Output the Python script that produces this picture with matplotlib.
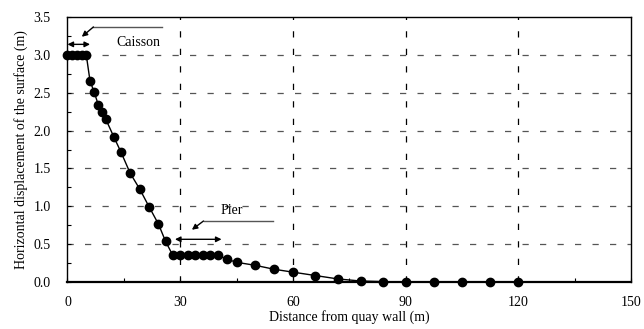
import matplotlib
matplotlib.use("Agg")
import matplotlib.pyplot as plt
from matplotlib.ticker import MultipleLocator

plt.rcParams['font.family'] = ['Liberation Serif', 'DejaVu Serif']

distance = [0, 1.25, 2.5, 3.75, 5.0,
            6.0, 7.1, 8.2, 9.2, 10.2, 12.4, 14.2, 16.7, 19.2, 21.7, 24.2, 26.1,
            28, 30, 32, 34, 36, 38, 40,
            42.5, 45, 50, 55, 60, 66, 72, 78, 84, 90, 97.5, 105, 112.5, 120]
displacement = [3.0, 3.0, 3.0, 3.0, 3.0,
                2.655, 2.51, 2.34, 2.25, 2.15, 1.91, 1.72, 1.436, 1.23, 0.995, 0.766, 0.537,
                0.355, 0.355, 0.355, 0.355, 0.355, 0.355, 0.355,
                0.30, 0.26, 0.22, 0.168, 0.13, 0.085, 0.04, 0.013, 0.005, 0.0, 0.0, 0.0, 0.0, 0.0]

x_ticks = [0, 30, 60, 90, 120, 150]
y_ticks = [0.0, 0.5, 1.0, 1.5, 2.0, 2.5, 3.0, 3.5]

fig = plt.figure(figsize=(6.44, 3.29), dpi=100)
ax = fig.add_axes([0.1048, 0.1429, 0.8752, 0.8051])

ax.plot(distance, displacement, color='black', lw=1.0, marker='o', ms=6,
        mfc='black', mec='black', zorder=3, clip_on=False)

ax.set_xlim(0, 150)
ax.set_ylim(0, 3.5)
ax.set_xticks(x_ticks)
ax.set_yticks(y_ticks)
ax.set_yticklabels([f"{v:.1f}" for v in y_ticks])
ax.xaxis.set_minor_locator(MultipleLocator(15))
ax.yaxis.set_minor_locator(MultipleLocator(0.25))
ax.tick_params(which='both', direction='in', labelsize=10, length=3, width=0.8)
ax.tick_params(axis='x', which='major', pad=10)
ax.tick_params(axis='y', which='major', pad=12)
ax.tick_params(which='minor', length=3)

for xv in [30, 60, 90, 120]:
    ax.axvline(xv, color='black', lw=0.9, ls=(0, (5, 9)), zorder=1)
for yv in [0.5, 1.0, 1.5, 2.0, 2.5, 3.0]:
    ax.axhline(yv, color='#555555', lw=0.9, ls=(0, (5, 9)), zorder=1)

for s in ax.spines.values():
    s.set_linewidth(1.0)
ax.spines['bottom'].set_linewidth(1.6)

ax.set_xlabel("Distance from quay wall (m)", fontsize=10, labelpad=1)
ax.set_ylabel("Horizontal displacement of the surface (m)", fontsize=10, labelpad=4)

# Caisson annotation
ax.annotate('', xy=(0, 3.14), xytext=(6.0, 3.14),
            arrowprops=dict(arrowstyle='<|-|>', color='black', lw=1.0,
                            mutation_scale=8, shrinkA=0, shrinkB=0))
ax.plot([6.9, 25.1], [3.37, 3.37], color='#555555', lw=1.0)
ax.annotate('', xy=(3.8, 3.24), xytext=(6.9, 3.37),
            arrowprops=dict(arrowstyle='-|>', color='black', lw=1.0,
                            mutation_scale=8, shrinkA=0, shrinkB=0))
ax.text(18.8, 3.17, "Caisson", fontsize=10, ha='center', va='center')

# Pier annotation
ax.annotate('', xy=(28.6, 0.564), xytext=(41.0, 0.564),
            arrowprops=dict(arrowstyle='<|-|>', color='black', lw=1.0,
                            mutation_scale=8, shrinkA=0, shrinkB=0))
ax.plot([36.2, 54.8], [0.806, 0.806], color='#555555', lw=1.0)
ax.annotate('', xy=(33.1, 0.69), xytext=(36.2, 0.806),
            arrowprops=dict(arrowstyle='-|>', color='black', lw=1.0,
                            mutation_scale=8, shrinkA=0, shrinkB=0))
ax.text(43.7, 0.95, "Pier", fontsize=10, ha='center', va='center')

fig.savefig("out.png", dpi=100)
